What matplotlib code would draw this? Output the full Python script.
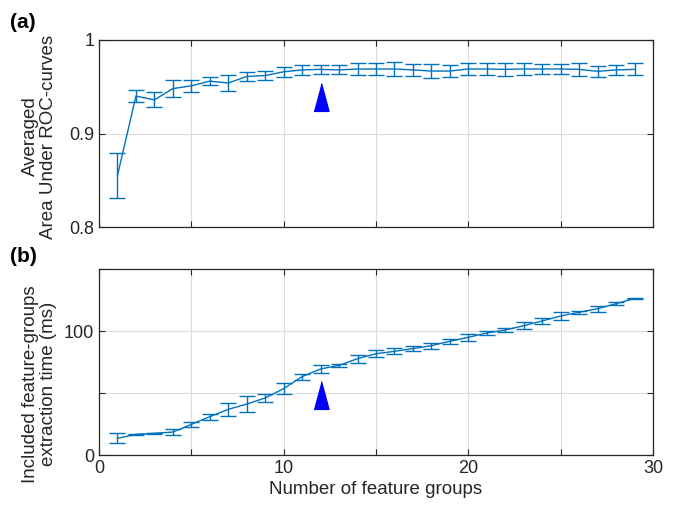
import matplotlib
matplotlib.use("Agg")
import matplotlib.pyplot as plt
import numpy as np

plt.rcParams['font.family'] = ['Liberation Sans', 'DejaVu Sans']

n_groups = list(range(1, 30))

auc_mean = [0.855, 0.940, 0.936, 0.948, 0.951, 0.956, 0.954, 0.961, 0.962, 0.966,
            0.968, 0.9686, 0.968, 0.969, 0.969, 0.969, 0.968, 0.9668, 0.9668, 0.969,
            0.969, 0.9686, 0.969, 0.969, 0.969, 0.9686, 0.9665, 0.968, 0.9686]
auc_err = [0.024, 0.0065, 0.008, 0.0093, 0.0065, 0.0045, 0.0085, 0.005, 0.0045, 0.0053,
           0.0052, 0.0046, 0.0048, 0.006, 0.006, 0.007, 0.0066, 0.0075, 0.006, 0.0066,
           0.0063, 0.0066, 0.006, 0.0053, 0.0055, 0.007, 0.006, 0.0055, 0.0063]

time_mean = [13.4, 16.7, 17.5, 18.5, 24.7, 30.9, 36.8, 41.1, 46.0, 53.5,
             63.2, 69.4, 72.3, 77.7, 81.7, 83.6, 85.8, 88.2, 91.7, 94.9,
             98.4, 100.8, 104.3, 108.1, 112.1, 115.1, 118.0, 122.0, 126.3]
time_err = [4.0, 0.5, 0.5, 2.3, 1.8, 2.4, 5.4, 6.2, 3.5, 4.2,
            2.4, 3.4, 1.0, 3.2, 2.8, 2.3, 2.3, 2.4, 2.2, 2.7,
            1.3, 2.0, 3.0, 2.4, 3.0, 1.3, 2.3, 1.0, 0.5]

marker_x = 12
marker_y_auc = 0.939
marker_y_time = 48

x_ticks = [0, 5, 10, 15, 20, 25, 30]
x_ticklabels = ['0', '', '10', '', '20', '', '30']
auc_ticks = [0.8, 0.9, 1.0]
auc_ticklabels = ['0.8', '0.9', '1']
time_ticks = [0, 50, 100, 150]
time_ticklabels = ['0', '', '100', '']

line_color = '#0072BD'
tri = [(-0.27, -0.5), (0.27, -0.5), (0.0, 0.5)]

fig = plt.figure(figsize=(6.75, 5.08), dpi=100)
ax1 = fig.add_axes([99/675, 1-227/508, 554/675, 187/508])
ax2 = fig.add_axes([99/675, 1-455/508, 554/675, 186/508])

def style(ax):
    ax.grid(True, color='#dcdcdc', linewidth=0.8)
    ax.set_axisbelow(True)
    ax.tick_params(direction='in', top=True, right=True, length=4,
                   labelsize=13, colors='#262626', width=0.8)
    for s in ax.spines.values():
        s.set_color('#262626')
        s.set_linewidth(0.9)
    ax.set_xlim(0, 30)
    ax.set_xticks(x_ticks)

ax1.errorbar(n_groups, auc_mean, yerr=auc_err, color=line_color, lw=1.0,
             capsize=6, capthick=1.0, elinewidth=1.0)
ax1.plot([marker_x], [marker_y_auc], marker=tri, markersize=20, color='#0000FF',
         linestyle='none')
style(ax1)
ax1.set_ylim(0.8, 1.0)
ax1.set_yticks(auc_ticks)
ax1.set_yticklabels(auc_ticklabels)
ax1.set_xticklabels([''] * len(x_ticks))
ax1.set_ylabel('Averaged\nArea Under ROC-curves', fontsize=13.5, color='#262626',
               linespacing=1.1)
ax1.yaxis.set_label_coords(-0.076, 0.484)

ax2.errorbar(n_groups, time_mean, yerr=time_err, color=line_color, lw=1.0,
             capsize=6, capthick=1.0, elinewidth=1.0)
ax2.plot([marker_x], [marker_y_time], marker=tri, markersize=20, color='#0000FF',
         linestyle='none')
style(ax2)
ax2.set_ylim(0, 150)
ax2.set_yticks(time_ticks)
ax2.set_yticklabels(time_ticklabels)
ax2.set_xticklabels(x_ticklabels)
ax2.set_ylabel('Included feature-groups\nextraction time (ms)', fontsize=13.5,
               color='#262626', linespacing=1.1)
ax2.yaxis.set_label_coords(-0.076, 0.38)
ax2.set_xlabel('Number of feature groups', fontsize=13.5, color='#262626', labelpad=3)

fig.text(10/675, 1-22/508, '(a)', fontsize=15, fontweight='bold', va='center')
fig.text(10/675, 1-256/508, '(b)', fontsize=15, fontweight='bold', va='center')

fig.savefig('out.png', dpi=100)
